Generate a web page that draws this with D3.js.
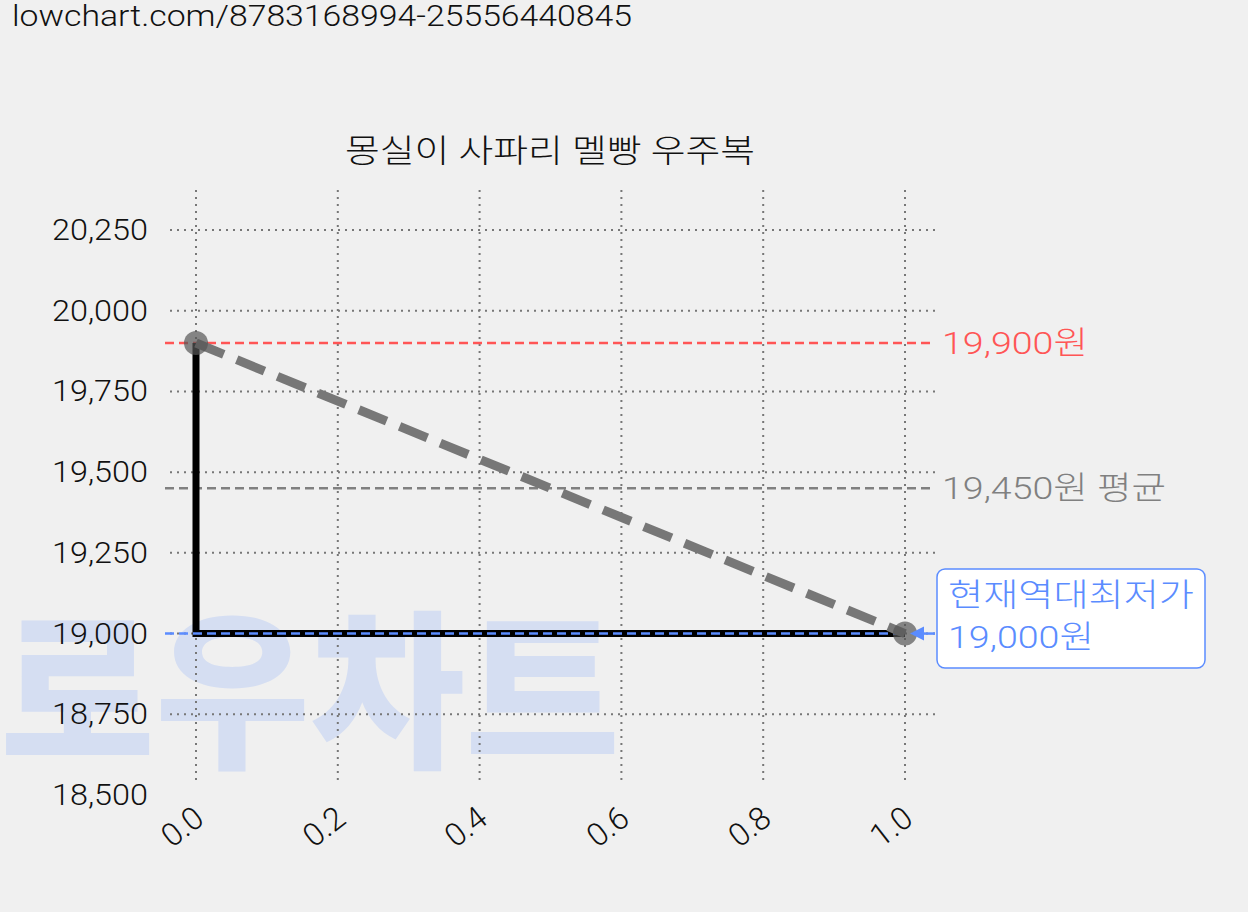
<!DOCTYPE html><html><head><meta charset="utf-8">
<script src="https://cdn.jsdelivr.net/npm/d3@7"></script>
<style>body{margin:0;background:#f0f0f0}svg{font-family:Roboto,"Noto Sans CJK KR",sans-serif}</style></head><body>
<script>
const xTicks=[0,0.2,0.4,0.6,0.8,1.0];
const yTicks=[18500,18750,19000,19250,19500,19750,20000,20250];
const stepX=[0,0,1];
const stepY=[19900,19000,19000];
const trendX=[0,1];
const trendY=[19900,19000];
const maxPrice=19900, avgPrice=19450, minPrice=19000;
const title="몽실이 사파리 멜빵 우주복";
const W=1248,H=912;
const svg=d3.select("body").append("svg").attr("width",W).attr("height",H);
const x=d3.scaleLinear().domain([0,1]).range([196,905]);
const y=d3.scaleLinear().domain([18500,20250]).range([795,230]);
const fmt=d3.format(",");
svg.append("text").attr("x",0).attr("y",755).attr("font-size",170).attr("font-weight",900)
 .attr("fill","#d5def2").attr("textLength",620).attr("lengthAdjust","spacingAndGlyphs").text("로우차트");
const T=(px,py,s,fs,c,len,anchor)=>{const t=svg.append("text").attr("x",px).attr("y",py).attr("font-size",fs).attr("fill",c).attr("font-weight",300).text(s);
 if(len)t.attr("textLength",len).attr("lengthAdjust","spacingAndGlyphs"); if(anchor)t.attr("text-anchor",anchor); return t;};
T(12,26,"lowchart.com/8783168994-25556440845",30,"#111",620);
T(550,162,title,32,"#111",410,"middle");
const g=svg.append("g");
xTicks.forEach(t=>g.append("line").attr("x1",x(t)).attr("x2",x(t)).attr("y1",190).attr("y2",785).attr("stroke","#777").attr("stroke-width",2).attr("stroke-dasharray","2,5"));
yTicks.slice(1).forEach(t=>g.append("line").attr("x1",170).attr("x2",935).attr("y1",y(t)).attr("y2",y(t)).attr("stroke","#777").attr("stroke-width",2).attr("stroke-dasharray","2,5"));
yTicks.forEach(t=>T(148,y(t)+10,fmt(t),30,"#111",96,"end"));
xTicks.forEach(t=>svg.append("text").attr("transform",`translate(${x(t)+10},${822}) rotate(-38)`).attr("text-anchor","end").attr("font-size",32).attr("font-weight",300).attr("fill","#111").text(t.toFixed(1)));
const hl=(v,c,x2)=>svg.append("line").attr("x1",165).attr("x2",x2).attr("y1",y(v)).attr("y2",y(v)).attr("stroke",c).attr("stroke-width",2.5).attr("stroke-dasharray","9,5");
hl(maxPrice,"#ff5555",935);hl(avgPrice,"#808080",935);
T(942,y(maxPrice)+11,fmt(maxPrice)+"원",32,"#ff5555",146);
T(942,y(avgPrice)+11,fmt(avgPrice)+"원 평균",32,"#808080",224);
const line=d3.line().x(d=>x(d[0])).y(d=>y(d[1]));
svg.append("path").attr("d",line(stepX.map((v,i)=>[v,stepY[i]]))).attr("fill","none").attr("stroke","#000").attr("stroke-width",7);
hl(minPrice,"#5b8cff",905);
svg.append("path").attr("d",line(trendX.map((v,i)=>[v,trendY[i]]))).attr("fill","none").attr("stroke","#777").attr("stroke-width",9).attr("stroke-dasharray","30,14");
trendX.forEach((v,i)=>svg.append("circle").attr("cx",x(v)).attr("cy",y(trendY[i])).attr("r",12).attr("fill","#555").attr("opacity",0.7));
svg.append("line").attr("x1",935).attr("x2",918).attr("y1",y(minPrice)).attr("y2",y(minPrice)).attr("stroke","#5b8cff").attr("stroke-width",2.5);
svg.append("path").attr("d",`M910,${y(minPrice)} l14,-7 l0,14 z`).attr("fill","#5b8cff");
svg.append("rect").attr("x",937).attr("y",569).attr("width",268).attr("height",99).attr("rx",8).attr("fill","#fff").attr("stroke","#5b8cff").attr("stroke-width",1.5);
T(948,606,"현재역대최저가",32,"#5b8cff",246);
T(948,648,fmt(minPrice)+"원",32,"#5b8cff",146);
</script></body></html>
